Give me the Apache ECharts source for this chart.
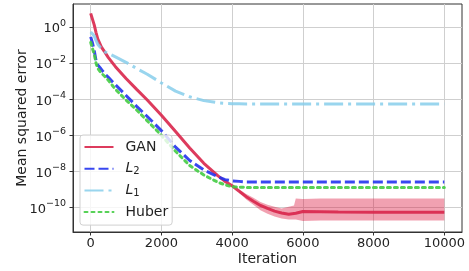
<!DOCTYPE html>
<html>
<head>
<meta charset="utf-8">
<script src="https://cdn.jsdelivr.net/npm/echarts@6.0.0/dist/echarts.min.js"></script>
<style>
html, body { margin: 0; padding: 0; background: #fff; }
#chart { width: 469px; height: 271px; }
</style>
</head>
<body>
<div id="chart"></div>
<script>
// values (MSE, log scale)
const iterations = [0, 50, 100, 150, 200, 300, 400, 500, 700, 1000, 1300, 1600, 2000, 2400, 2800, 3200, 3600, 3800,
    4000, 4200, 4400, 4600, 4800, 5000, 5200, 5400, 5600, 5800, 6000, 6500, 7000, 8000, 9000, 10000];

const ganMse = [5.6, 4.5, 1.3, 5.0e-1, 2.2e-1, 7.9e-2, 4.0e-2, 2.0e-2, 6.3e-3, 1.4e-3, 3.5e-4, 8.9e-5, 1.3e-5, 1.6e-6, 2.0e-7, 2.8e-8, 5.6e-9, 2.8e-9,
    1.6e-9, 7.9e-10, 4.0e-10, 2.2e-10, 1.3e-10, 8.9e-11, 6.3e-11, 5.0e-11, 4.2e-11, 4.8e-11, 6.0e-11, 5.9e-11, 5.6e-11, 5.5e-11, 5.5e-11, 5.4e-11];

const l2Mse = [2.8e-1, 1.3e-1, 5.0e-2, 1.4e-2, 7.9e-3, 4.5e-3, 2.5e-3, 1.6e-3, 6.3e-4, 1.6e-4, 4.0e-5, 1.1e-5, 1.8e-6, 2.2e-7, 4.0e-8, 1.2e-8, 5.0e-9, 3.5e-9,
    3.0e-9, 2.8e-9, 2.6e-9, 2.6e-9, 2.6e-9, 2.6e-9, 2.6e-9, 2.6e-9, 2.6e-9, 2.6e-9, 2.6e-9, 2.6e-9, 2.6e-9, 2.6e-9, 2.6e-9, 2.6e-9];

const l1Mse = [5.2e-1, 5.0e-1, 3.2e-1, 1.8e-1, 1.1e-1, 6.3e-2, 4.2e-2, 3.4e-2, 2.2e-2, 1.1e-2, 5.0e-3, 2.4e-3, 7.9e-4, 2.8e-4, 1.35e-4, 8.3e-5, 6.3e-5, 5.9e-5,
    5.6e-5, 5.5e-5, 5.4e-5, 5.4e-5, 5.4e-5, 5.4e-5, 5.4e-5, 5.4e-5, 5.4e-5, 5.4e-5, 5.4e-5, 5.4e-5, 5.4e-5, 5.4e-5, 5.4e-5, 5.4e-5];

const huberMse = [1.4e-1, 6.3e-2, 3.2e-2, 1.0e-2, 5.0e-3, 2.8e-3, 1.8e-3, 1.1e-3, 3.5e-4, 8.9e-5, 2.5e-5, 6.3e-6, 1.0e-6, 1.3e-7, 2.1e-8, 6.3e-9, 2.5e-9, 1.8e-9,
    1.4e-9, 1.35e-9, 1.3e-9, 1.3e-9, 1.3e-9, 1.3e-9, 1.3e-9, 1.3e-9, 1.3e-9, 1.3e-9, 1.3e-9, 1.3e-9, 1.3e-9, 1.3e-9, 1.3e-9, 1.3e-9];

// spread of the GAN runs (shaded band)
const bandIterations = [4200, 4400, 4600, 4800, 5000, 5200, 5400, 5600, 5750, 5800, 6000, 6500, 7000, 8000, 9000, 10000];
const ganUpper = [1.0e-9, 5.6e-10, 3.5e-10, 2.0e-10, 1.4e-10, 1.1e-10, 8.9e-11, 1.1e-10, 1.3e-10, 3.2e-10, 3.0e-10, 3.2e-10, 3.2e-10, 3.2e-10, 3.2e-10, 3.2e-10];
const ganLower = [6.3e-10, 2.8e-10, 1.4e-10, 7.0e-11, 4.5e-11, 3.2e-11, 2.5e-11, 2.2e-11, 2.2e-11, 2.2e-11, 1.8e-11, 1.9e-11, 1.9e-11, 1.9e-11, 1.9e-11, 1.9e-11];

const xTicks = [0, 2000, 4000, 6000, 8000, 10000];
const yTicks = [1e-10, 1e-8, 1e-6, 1e-4, 1e-2, 1];

const FONT = 'DejaVu Sans';

function pairs(xs, ys) {
    return xs.map((x, i) => [x, ys[i]]);
}

function powLabel(value) {
    const e = Math.round(Math.log10(value));
    const txt = e < 0 ? '\u2212' + (-e) : String(e);
    return '{b|10}{s|' + txt + '}';
}

const chart = echarts.init(document.getElementById('chart'));

const option = {
    animation: false,
    textStyle: { fontFamily: FONT },
    grid: {
        left: 73, right: 7, top: 4, bottom: 39,
        containLabel: false,
        outerBoundsMode: 'none',
        show: true, borderColor: '#333', borderWidth: 1, backgroundColor: 'transparent'
    },
    legend: {
        data: ['GAN', 'L2', 'L1', 'Huber'],
        orient: 'vertical',
        left: 80, top: 135,
        padding: [4, 4, 5, 3.5],
        itemWidth: 29,
        itemHeight: 16,
        itemGap: 5.7,
        itemStyle: { opacity: 0 },
        backgroundColor: 'rgba(255,255,255,0.8)',
        borderColor: '#d0d0d0',
        borderWidth: 1,
        borderRadius: 3,
        formatter: name => {
            if (name === 'L2') return '{i|L}{sub|2}';
            if (name === 'L1') return '{i|L}{sub|1}';
            return name;
        },
        textStyle: {
            fontFamily: FONT, fontSize: 14, color: '#222', lineHeight: 16,
            padding: [0, 0, 0, 7],
            rich: {
                i: { fontFamily: FONT, fontSize: 14, fontStyle: 'italic', color: '#222', lineHeight: 16 },
                sub: { fontFamily: FONT, fontSize: 10, color: '#222', lineHeight: 9, verticalAlign: 'bottom' }
            }
        }
    },
    xAxis: {
        type: 'value',
        min: -500, max: 10500,
        name: 'Iteration',
        nameLocation: 'middle',
        nameGap: 20,
        nameMoveOverlap: false,
        nameTextStyle: { fontFamily: FONT, fontSize: 14, color: '#222' },
        axisLine: { onZero: false, lineStyle: { color: '#333' } },
        axisTick: { show: true, inside: false, length: 3.5, lineStyle: { color: '#333' }, customValues: xTicks },
        axisLabel: { fontFamily: FONT, fontSize: 13, color: '#222', margin: 5, customValues: xTicks, formatter: v => String(v) },
        splitLine: { show: true, lineStyle: { color: '#cfcfcf', width: 1 } }
    },
    yAxis: {
        type: 'log',
        logBase: 10,
        min: 4.4e-12, max: 18.6,
        splitNumber: 6,
        name: 'Mean squared error',
        nameLocation: 'middle',
        nameGap: 44,
        nameMoveOverlap: false,
        nameTextStyle: { fontFamily: FONT, fontSize: 14, color: '#222' },
        axisLine: { show: true, onZero: false, lineStyle: { color: '#333' } },
        axisTick: { show: true, inside: false, length: 3.5, lineStyle: { color: '#333' }, customValues: yTicks },
        axisLabel: {
            margin: 7,
            customValues: yTicks,
            formatter: powLabel,
            rich: {
                b: { fontFamily: FONT, fontSize: 13, color: '#222', padding: [4, 0, 0, 0], verticalAlign: 'bottom' },
                s: { fontFamily: FONT, fontSize: 9.5, color: '#222', lineHeight: 10, verticalAlign: 'top' }
            }
        },
        splitLine: { show: true, lineStyle: { color: '#cfcfcf', width: 1 } }
    },
    series: [
        {
            name: 'GAN band',
            type: 'custom',
            data: [[bandIterations[0], ganUpper[0]]],
            clip: true,
            silent: true,
            renderItem: (params, api) => {
                const pts = [];
                for (let i = 0; i < bandIterations.length; i++) {
                    pts.push(api.coord([bandIterations[i], ganUpper[i]]));
                }
                for (let i = bandIterations.length - 1; i >= 0; i--) {
                    pts.push(api.coord([bandIterations[i], ganLower[i]]));
                }
                return { type: 'polygon', shape: { points: pts }, style: { fill: 'rgba(220,20,60,0.4)' } };
            }
        },
        {
            name: 'GAN', type: 'line', data: pairs(iterations, ganMse),
            symbol: 'none', showSymbol: false,
            color: '#d9264b',
            lineStyle: { color: '#d9264b', width: 3, opacity: 0.9 }
        },
        {
            name: 'L2', type: 'line', data: pairs(iterations, l2Mse),
            symbol: 'none', showSymbol: false,
            color: '#2233ee',
            lineStyle: { color: '#2233ee', width: 3, type: [10, 4], opacity: 0.9 }
        },
        {
            name: 'L1', type: 'line', data: pairs(iterations, l1Mse),
            symbol: 'none', showSymbol: false,
            color: '#87ceeb',
            lineStyle: { color: '#87ceeb', width: 3, type: [19, 5, 3, 5], opacity: 0.85 }
        },
        {
            name: 'Huber', type: 'line', data: pairs(iterations, huberMse),
            symbol: 'none', showSymbol: false,
            color: '#44cc44',
            lineStyle: { color: '#44cc44', width: 3, type: [3, 4], cap: 'round', opacity: 0.9 }
        }
    ]
};

chart.setOption(option);
</script>
</body>
</html>
